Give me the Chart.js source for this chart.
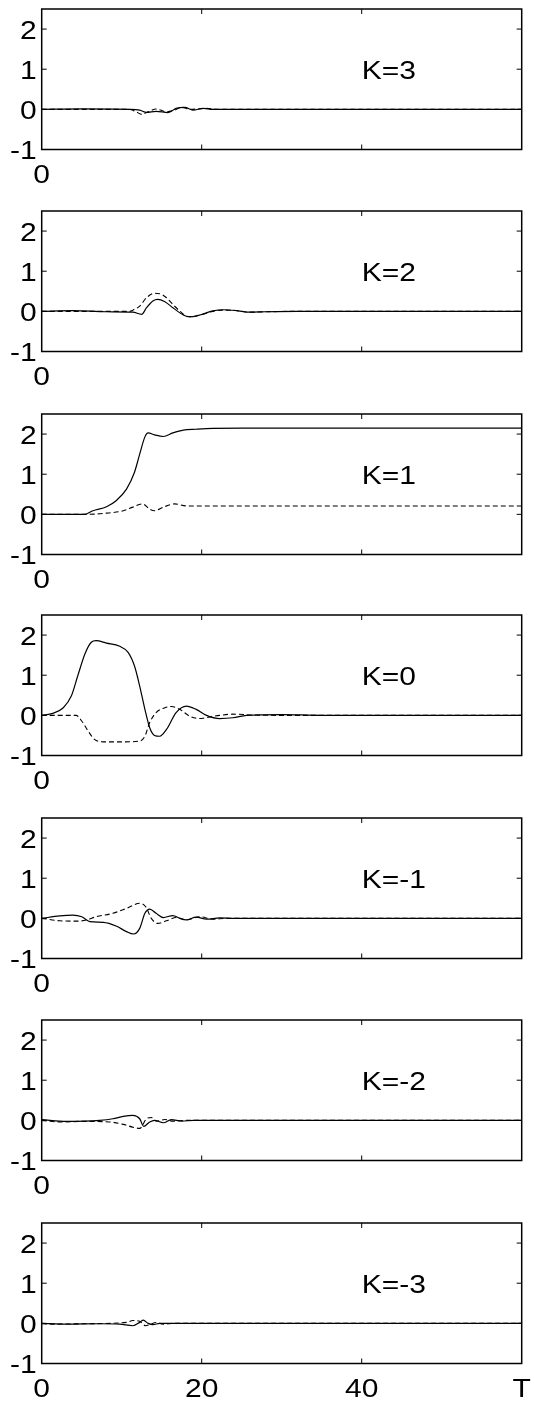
<!DOCTYPE html>
<html>
<head>
<meta charset="utf-8">
<script src="https://cdn.jsdelivr.net/npm/chart.js@4.4.1/dist/chart.umd.min.js"></script>
<style>
  html, body { margin: 0; padding: 0; background: #fff; }
  #wrap { position: relative; width: 535px; height: 1403px; overflow: hidden; background: #fff; }
  canvas { position: absolute; left: 0; }
</style>
</head>
<body>
<div id="wrap"></div>
<script>
// ---------------- data ----------------
const xTicks = [0, 20, 40, 60];
const xTickLabels = ['0', '20', '40', 'T'];
const yTicks = [-1, 0, 1, 2];
const kLabels = ['K=3', 'K=2', 'K=1', 'K=0', 'K=-1', 'K=-2', 'K=-3'];

const k3SolidT = [0, 5, 11, 12.25, 13.1, 14.3, 15.8, 16.8, 17.9, 18.9, 20.2, 21.4, 30, 60];
const k3SolidV = [0, 0.01, 0, -0.02, -0.075, -0.05, -0.08, 0.025, 0.05, -0.02, 0.025, 0, 0, 0];
const k3DashT = [0, 5, 11, 11.8, 12.5, 13.3, 14.3, 15.6, 16.6, 17.5, 18.5, 20.6, 22, 60];
const k3DashV = [0, 0, 0, -0.06, -0.125, -0.06, 0.01, -0.06, -0.02, 0.05, 0, 0.025, 0, 0];

const k2SolidT = [0, 3.9, 8.1, 11.4, 12.5, 13.1, 13.9, 14.5, 15.4, 16.4, 17.7, 18.5, 19.75, 21.4, 22.7, 24.3, 26, 28, 32, 60];
const k2SolidV = [0, 0.02, -0.01, -0.02, -0.075, 0.09, 0.26, 0.3, 0.24, 0.09, -0.09, -0.14, -0.09, 0.01, 0.04, 0.02, -0.02, -0.01, 0, 0];
const k2DashT = [0, 5, 11, 11.4, 12.25, 13.1, 14.1, 14.75, 15.6, 16.4, 17.25, 18.1, 18.9, 20, 21.4, 22.7, 24.3, 26, 28, 32, 60];
const k2DashV = [0, 0, 0, 0.03, 0.13, 0.34, 0.45, 0.44, 0.34, 0.17, 0.01, -0.12, -0.13, -0.08, 0, 0.03, 0.02, -0.02, -0.01, 0, 0];

const k1SolidT = [0, 5.4, 6.4, 8.1, 9.3, 10.6, 11.6, 12.25, 12.9, 13.3, 14.1, 15.2, 16.4, 17.7, 19.3, 21.4, 25, 60];
const k1SolidV = [0, 0, 0.09, 0.19, 0.34, 0.63, 1.05, 1.5, 1.93, 2.03, 1.98, 1.94, 2.03, 2.1, 2.12, 2.14, 2.15, 2.15];
const k1DashT = [0, 5.5, 8.1, 10.2, 11.4, 12.6, 13.5, 14.1, 15.2, 16.6, 18.1, 20, 60];
const k1DashV = [0, 0, 0.03, 0.09, 0.18, 0.26, 0.13, 0.09, 0.18, 0.26, 0.21, 0.21, 0.21];

const k0SolidT = [0, 1.4, 2.7, 3.7, 4.5, 5.4, 6.2, 6.8, 8.1, 9.75, 10.8, 11.6, 12.25, 12.9, 13.5, 14.1, 14.75, 15.6, 16.8, 18.1, 19.3, 20.6, 22.25, 23.9, 25.6, 30, 35, 60];
const k0SolidV = [0, 0.05, 0.19, 0.48, 0.98, 1.53, 1.82, 1.86, 1.8, 1.72, 1.57, 1.23, 0.73, 0.15, -0.31, -0.5, -0.52, -0.35, 0.07, 0.23, 0.15, 0, -0.08, -0.06, 0, 0.02, 0, 0];
const k0DashT = [0, 4.3, 5, 5.8, 6.6, 7.7, 10.2, 12.25, 12.9, 13.5, 14.3, 15.4, 16.2, 17.25, 18.5, 19.75, 21, 22.25, 23.9, 26.4, 30, 60];
const k0DashV = [0, 0, -0.14, -0.39, -0.6, -0.66, -0.66, -0.64, -0.52, -0.18, 0.07, 0.19, 0.22, 0.15, -0.02, -0.08, -0.04, 0, 0.03, 0.01, 0, 0];

const km1SolidT = [0, 2.25, 3.9, 5, 6, 7.7, 9.3, 10.6, 11.5, 12.25, 12.9, 13.5, 14.3, 15.2, 16.4, 17.25, 18.1, 19.3, 20.6, 22.25, 24, 60];
const km1SolidV = [0, 0.06, 0.08, 0.04, -0.08, -0.1, -0.19, -0.33, -0.39, -0.25, 0.125, 0.23, 0.125, 0.02, 0.07, 0, -0.04, 0.03, -0.02, 0.01, 0, 0];
const km1DashT = [0, 2.25, 4.3, 5.6, 6.8, 8.9, 10.6, 12.25, 13, 13.7, 14.5, 15.6, 16.8, 18.1, 19.75, 21.4, 23, 60];
const km1DashV = [0, -0.06, -0.07, -0.04, 0.04, 0.125, 0.25, 0.375, 0.29, 0, -0.125, -0.06, 0.02, -0.04, 0.04, -0.02, 0, 0];

const km2SolidT = [0, 3.1, 7.25, 8.9, 10.2, 11.4, 12.25, 12.75, 13.5, 14.1, 15.2, 16.2, 17.5, 19, 60];
const km2SolidV = [0.02, -0.025, 0, 0.04, 0.1, 0.125, 0.04, -0.15, -0.04, 0, -0.06, 0.02, -0.02, 0, 0];
const km2DashT = [0, 2.25, 5.2, 8.5, 10.2, 11.4, 12.25, 13.1, 13.7, 14.3, 15.4, 16.4, 18, 60];
const km2DashV = [0, -0.04, -0.025, -0.04, -0.1, -0.17, -0.2, 0.04, 0.07, -0.02, 0.02, -0.02, 0, 0];

const km3SolidT = [0, 3.1, 7.25, 9.75, 11.4, 12.25, 12.7, 13.3, 13.9, 14.75, 16, 60];
const km3SolidV = [0, -0.02, -0.01, -0.02, -0.06, 0.025, 0.08, 0, -0.03, 0, 0, 0];
const km3DashT = [0, 1, 5.2, 10.6, 11.4, 12.25, 13, 13.5, 14.3, 15.2, 16.5, 60];
const km3DashV = [0, -0.02, -0.01, 0.025, 0.07, 0.05, -0.06, -0.03, 0.02, -0.02, 0, 0];

const panelSeries = [
  [k3SolidT, k3SolidV, k3DashT, k3DashV],
  [k2SolidT, k2SolidV, k2DashT, k2DashV],
  [k1SolidT, k1SolidV, k1DashT, k1DashV],
  [k0SolidT, k0SolidV, k0DashT, k0DashV],
  [km1SolidT, km1SolidV, km1DashT, km1DashV],
  [km2SolidT, km2SolidV, km2DashT, km2DashV],
  [km3SolidT, km3SolidV, km3DashT, km3DashV]
];

// ---------------- layout / style ----------------
const PAGE_W = 535, PAGE_H = 1403;
const plotTops = [9, 211, 414, 615, 818, 1020, 1223];
const PLOT_H = 140.5;
const PLOT_LEFT = 41.7, PLOT_RIGHT = 521.7;
const CANVAS_OFFSET = 9;
const FONT = '"Liberation Sans", Arial, Helvetica, sans-serif';
const FONT_SIZE = 25;
const TEXT_STRETCH = 1.2;
const TICK_LEN = 5;

function stretchText(ctx) {
  const orig = ctx.fillText;
  ctx.fillText = function (t, x, y, mw) {
    this.save();
    this.translate(x, y);
    this.scale(TEXT_STRETCH, 1);
    orig.call(this, t, 0, 0);
    this.restore();
  };
}

const framePlugin = {
  id: 'frame',
  afterDatasetsDraw(chart, args, opts) {
    const ctx = chart.ctx;
    const ca = chart.chartArea;
    const xs = chart.scales.x, ys = chart.scales.y;
    ctx.save();
    ctx.strokeStyle = '#000';
    ctx.lineWidth = 1.5;
    ctx.strokeRect(ca.left, ca.top, ca.right - ca.left, ca.bottom - ca.top);
    ctx.lineWidth = 1;
    ctx.beginPath();
    xTicks.forEach(v => {
      if (v <= xs.min || v >= xs.max) return;
      const px = xs.getPixelForValue(v);
      ctx.moveTo(px, ca.top); ctx.lineTo(px, ca.top + TICK_LEN);
      ctx.moveTo(px, ca.bottom); ctx.lineTo(px, ca.bottom - TICK_LEN);
    });
    yTicks.forEach(v => {
      if (v <= ys.min || v >= ys.max) return;
      const py = ys.getPixelForValue(v);
      ctx.moveTo(ca.left, py); ctx.lineTo(ca.left + TICK_LEN, py);
      ctx.moveTo(ca.right, py); ctx.lineTo(ca.right - TICK_LEN, py);
    });
    ctx.stroke();
    // K label at data position (40, 1)
    ctx.fillStyle = '#000';
    ctx.font = FONT_SIZE + 'px ' + FONT;
    ctx.textAlign = 'left';
    ctx.textBaseline = 'middle';
    ctx.fillText(opts.label, xs.getPixelForValue(40), ys.getPixelForValue(1) + 3);
    ctx.restore();
  }
};

const wrap = document.getElementById('wrap');

plotTops.forEach((top, i) => {
  const last = i === plotTops.length - 1;
  const cTop = top - CANVAS_OFFSET;
  const cH = last ? PAGE_H - cTop : 200;
  const canvas = document.createElement('canvas');
  canvas.width = PAGE_W; canvas.height = cH;
  canvas.style.width = PAGE_W + 'px'; canvas.style.height = cH + 'px';
  canvas.style.top = cTop + 'px';
  wrap.appendChild(canvas);
  const ctx = canvas.getContext('2d');
  stretchText(ctx);

  const [sT, sV, dT, dV] = panelSeries[i];
  const solid = sT.map((t, j) => ({ x: t, y: sV[j] }));
  const dash = dT.map((t, j) => ({ x: t, y: dV[j] }));

  new Chart(ctx, {
    type: 'line',
    data: {
      datasets: [
        { data: dash, borderColor: '#000', borderWidth: 1.1, borderDash: [5, 3], pointRadius: 0, fill: false, cubicInterpolationMode: 'monotone' },
        { data: solid, borderColor: '#000', borderWidth: 1.2, pointRadius: 0, fill: false, cubicInterpolationMode: 'monotone' }
      ]
    },
    options: {
      responsive: false,
      animation: false,
      devicePixelRatio: 1,
      layout: { padding: { left: 0, right: PAGE_W - PLOT_RIGHT, top: CANVAS_OFFSET, bottom: 0 } },
      plugins: { legend: { display: false }, tooltip: { enabled: false }, frame: { label: kLabels[i] } },
      scales: {
        x: {
          type: 'linear', min: 0, max: 60,
          grid: { display: false, drawTicks: false },
          border: { display: false },
          afterBuildTicks: s => { s.ticks = xTicks.map(v => ({ value: v })); },
          afterFit: s => { s.height = cH - CANVAS_OFFSET - PLOT_H; s.paddingLeft = 0; s.paddingRight = 0; s.paddingTop = 0; s.paddingBottom = 0; },
          ticks: {
            autoSkip: false, maxRotation: 0, minRotation: 0, padding: 12,
            color: '#000', font: { family: FONT, size: FONT_SIZE, lineHeight: 1.2 },
            callback: (v) => {
              const k = xTicks.indexOf(v);
              if (last) return xTickLabels[k];
              return v === 0 ? xTickLabels[0] : '';
            }
          }
        },
        y: {
          type: 'linear', min: -1, max: 2.5,
          grid: { display: false, drawTicks: false },
          border: { display: false },
          afterBuildTicks: s => { s.ticks = yTicks.map(v => ({ value: v })); },
          afterFit: s => { s.width = PLOT_LEFT; s.paddingLeft = 0; s.paddingRight = 0; s.paddingTop = 0; s.paddingBottom = 0; },
          ticks: {
            autoSkip: false, padding: 5, labelOffset: 3,
            color: '#000', font: { family: FONT, size: FONT_SIZE },
            callback: v => String(v)
          }
        }
      }
    },
    plugins: [framePlugin]
  });
});
</script>
</body>
</html>
